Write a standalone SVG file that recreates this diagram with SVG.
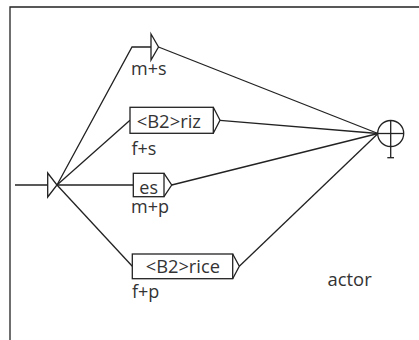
<svg xmlns="http://www.w3.org/2000/svg" width="419" height="340" viewBox="0 0 419 340">
<style>
.l{fill:none;stroke:#222;stroke-width:1.3}
.b{fill:#fff;stroke:#222;stroke-width:1.3}
.t{font-family:"Open Sans","DejaVu Sans",sans-serif;font-size:18px;fill:#333}
</style>
<rect width="419" height="340" fill="#fff"/>
<path class="l" d="M10,340 V7 H419" stroke="#444"/>
<g id="connectors">
<line class="l" x1="15" y1="185" x2="48" y2="185"/>
<polyline class="l" points="57,185 132,47 151,47"/>
<line class="l" x1="57" y1="185" x2="130" y2="120.3"/>
<line class="l" x1="57" y1="185" x2="133.3" y2="185"/>
<line class="l" x1="57" y1="185" x2="132.3" y2="266.3"/>
<line class="l" x1="158.5" y1="47" x2="378" y2="133.5"/>
<line class="l" x1="220" y1="120.3" x2="378" y2="133.5"/>
<line class="l" x1="171.7" y1="185" x2="378" y2="133.5"/>
<line class="l" x1="239.3" y1="266.3" x2="378" y2="133.5"/>
</g>
<g id="initial">
<polygon class="b" points="47.7,173 57,185 47.7,197"/>
</g>
<g id="n-ms">
<polygon class="b" points="151,34 158.5,47 151,60"/>
<text class="t" x="131" y="75">m+s</text>
</g>
<g id="n-riz">
<rect class="b" x="130" y="107.3" width="83.3" height="26"/>
<polyline class="l" points="213.3,107.3 220,120.3 213.3,133.3"/>
<text class="t" x="136.7" y="128.3" textLength="64.3" lengthAdjust="spacingAndGlyphs">&lt;B2&gt;riz</text>
<text class="t" x="131.5" y="155">f+s</text>
</g>
<g id="n-es">
<rect class="b" x="133.3" y="173.3" width="30.7" height="23.4"/>
<polyline class="l" points="164,173.3 171.7,185 164,196.7"/>
<text class="t" x="139.3" y="194">es</text>
<text class="t" x="131" y="213">m+p</text>
</g>
<g id="n-rice">
<rect class="b" x="132.3" y="254" width="100.4" height="24.7"/>
<polyline class="l" points="232.7,254 239.3,266.3 232.7,278.7"/>
<text class="t" x="145.7" y="273" textLength="74.3" lengthAdjust="spacingAndGlyphs">&lt;B2&gt;rice</text>
<text class="t" x="132" y="298">f+p</text>
</g>
<g id="final">
<circle class="b" cx="390.7" cy="133.5" r="13"/>
<line class="l" x1="377.7" y1="133.5" x2="403.7" y2="133.5"/>
<line class="l" x1="390.7" y1="120.5" x2="390.7" y2="157.7"/>
<line class="l" x1="387.3" y1="157.7" x2="394" y2="157.7"/>
</g>
<text class="t" x="327.5" y="286" textLength="44.2" lengthAdjust="spacingAndGlyphs">actor</text>
</svg>
